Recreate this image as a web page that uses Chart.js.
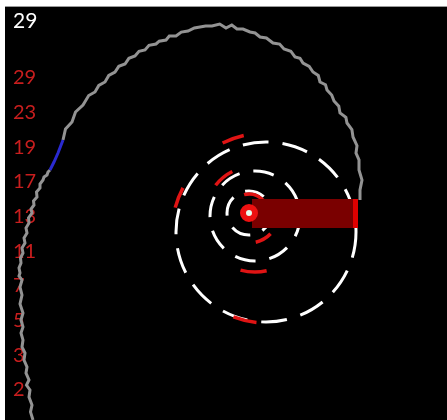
<!DOCTYPE html>
<html><head><meta charset="utf-8">
<script src="https://cdn.jsdelivr.net/npm/chart.js@4"></script>
<style>
html,body{margin:0;padding:0;background:#fff;width:447px;height:420px;overflow:hidden;}
#wrap{position:absolute;left:5px;top:6px;width:442px;height:413px;border-top:1px solid #9a9a9a;background:#000;}
</style></head><body>
<div id="wrap"><canvas id="c"></canvas></div>
<script>
// ---- data ----
const titleText = '29';
const primeLabels = ['29','23','19','17','13','11','7','5','3','2'];

// gray spiral path (x, y in plot units), jagged as in the picture
const spiralLowX = [33,30.5,32,29,30,26.5,29,26,27,24,25,22,23,21,23,21,23,20,22,20,22,19,20,19,21,20.5,23,22,25,24,27,26,29,28.5,32,31,34,33.5,37,36.5,40,40,43,44,47,48,50];
const spiralLowY = [420,412,405,397,390,385,380,373,367,360,353,347,340,333,327,320,313,304,295,287,280,276,273,268,263,258,253,248,243,238,233,228,223,218,213,209,205,201,197,192,188,184,180,177,175,172,170];
const blueX = [50,54,58,63];
const blueY = [170,162,153,140];
const spiralHighX = [63,65.5,72,75.5,83,88.7,95,98.8,105,108.8,115,118.8,125,128.9,135,139,145,149,156,159.2,166,169.3,176,181.3,188,194.4,200,205.6,212,219.7,226,231.8,237,243,250,255.1,260,266.4,273,279.6,284,290.8,295,300,303,309.2,313,318.3,320,325.5,327,331.7,334,338.8,340,345.9,347,351.9,353,357,356,359,359,362,360,360];
const spiralHighY = [140,129,122,112,105,95.5,92,85.4,82,75.4,72,66.3,64,58.3,56,51.3,50,45.3,44,41.2,40,36.1,36,32.1,31,28,27,26,26,24,28,25,29,29,32,33,37,38,43,44.1,49,51.2,57,58.3,63,66.4,72,75.5,82,84.7,90,95,101,106.2,113,117.4,123,129.5,137,145.7,153,159.8,170,180,190,200];

// bar (from centre outwards)
const barFrom = 252, barTo = 358, barLevel = 213.5;
const barCapFrom = 353;

// centre
const centreX = 249, centreY = 213;

// white dashed rings: centre x, centre y, radius
const ringCX = [249, 255, 266];
const ringCY = [213, 216, 232];
const ringR  = [22, 45, 90];

// red arcs: centre x, centre y, radius, start deg, end deg
const arcCX = [266, 266, 266, 255, 255, 249, 249];
const arcCY = [232, 232, 232, 216, 216, 213, 213];
const arcR  = [99, 94, 91, 50, 56, 19, 30];
const arcA0 = [-116, -165, 96, -142, 78, -105, 44];
const arcA1 = [-103, -152, 111, -117, 105, -42, 77];

// ---- build ----
const pts = (xs, ys) => xs.map((x, i) => ({x, y: ys[i]}));

const ringsPlugin = {
  id: 'rings',
  beforeDatasetsDraw(chart) {
    const {ctx, scales: {x, y}} = chart;
    ctx.save();
    ctx.lineCap = 'butt';
    ringR.forEach((r, i) => {
      const px = x.getPixelForValue(ringCX[i]);
      const py = y.getPixelForValue(ringCY[i]);
      const pr = Math.abs(x.getPixelForValue(ringCX[i] + r) - px);
      ctx.beginPath();
      ctx.strokeStyle = '#ffffff';
      ctx.lineWidth = 3;
      ctx.setLineDash(i === 2 ? [26, 14] : i === 1 ? [21, 14] : [20, 13]);
      ctx.arc(px, py, pr, 0, Math.PI * 2);
      ctx.stroke();
    });
    ctx.setLineDash([]);
    arcR.forEach((r, i) => {
      const px = x.getPixelForValue(arcCX[i]);
      const py = y.getPixelForValue(arcCY[i]);
      const pr = Math.abs(x.getPixelForValue(arcCX[i] + r) - px);
      ctx.beginPath();
      ctx.strokeStyle = '#e01414';
      ctx.lineWidth = 3.5;
      ctx.arc(px, py, pr, arcA0[i] * Math.PI / 180, arcA1[i] * Math.PI / 180);
      ctx.stroke();
    });
    ctx.restore();
  }
};

new Chart(document.getElementById('c'), {
  type: 'scatter',
  data: {
    datasets: [
      { data: [{x: centreX, y: centreY}], pointRadius: 6, pointBorderWidth: 6,
        pointBackgroundColor: '#e8fff0', pointBorderColor: '#ee1111', showLine: false, clip: false },
      { data: [{x: barCapFrom, y: barLevel}, {x: barTo, y: barLevel}], showLine: true,
        borderColor: '#e00000', borderWidth: 29, pointRadius: 0, borderCapStyle: 'butt', clip: false },
      { data: [{x: barFrom, y: barLevel}, {x: barTo, y: barLevel}], showLine: true,
        borderColor: '#7a0000', borderWidth: 29, pointRadius: 0, borderCapStyle: 'butt', clip: false },
      { data: pts(blueX, blueY), showLine: true, borderColor: '#2a2ad0', borderWidth: 3,
        pointRadius: 0, tension: 0, clip: false },
      { data: pts(spiralLowX, spiralLowY), showLine: true, borderColor: '#939393', borderWidth: 3,
        pointRadius: 0, tension: 0, clip: false, borderJoinStyle: 'miter' },
      { data: pts(spiralHighX, spiralHighY), showLine: true, borderColor: '#939393', borderWidth: 3,
        pointRadius: 0, tension: 0, clip: false, borderJoinStyle: 'miter' }
    ]
  },
  options: {
    responsive: true, maintainAspectRatio: false, animation: false,
    layout: { autoPadding: false, padding: { left: 8, top: 0, right: 0, bottom: 0 } },
    plugins: {
      legend: { display: false },
      tooltip: { enabled: false },
      title: { display: true, text: titleText, align: 'start', color: '#ffffff',
        font: { family: 'Lato', size: 21, weight: 'normal', lineHeight: 1.2 },
        padding: { top: 2, bottom: 2.8 } }
    },
    scales: {
      x: { type: 'linear', display: false, min: 13, max: 447 },
      y: { type: 'linear', display: false, min: 37, max: 420, reverse: true },
      yl: { type: 'linear', position: 'left', min: -1.1826, max: 9.864, reverse: true,
        grid: { display: false, drawTicks: false }, border: { display: false },
        afterBuildTicks: s => { s.ticks = primeLabels.map((_, i) => ({value: i})); },
        afterFit: s => { s.width = 0; s.paddingTop = 0; s.paddingBottom = 0; },
        ticks: { mirror: true, padding: 0, color: '#c81e1e',
          font: { family: 'Lato', size: 20 },
          callback: v => primeLabels[v] ?? '' } }
    }
  },
  plugins: [ringsPlugin]
});
</script>
</body></html>
